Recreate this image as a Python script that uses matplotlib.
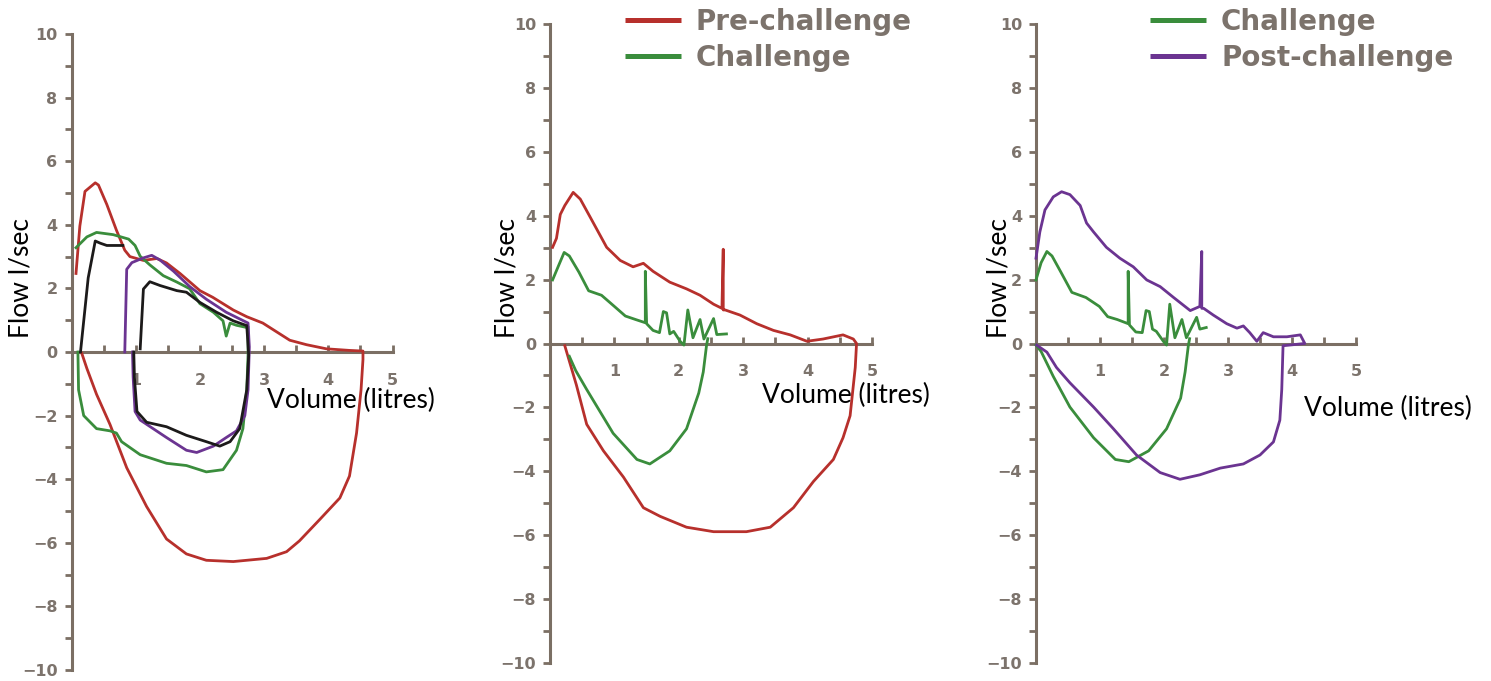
import matplotlib
matplotlib.use("Agg")
import matplotlib.pyplot as plt
import numpy as np

# ---- data (volume in litres, flow in l/sec) ----
# panel 1: overlaid loops
p1_red_vol = [0.07, 0.13, 0.21, 0.37, 0.42, 0.55, 0.70, 0.83, 0.91, 1.12, 1.33, 1.48, 1.69, 2.00, 2.20,
              2.52, 2.73, 2.98, 3.19, 3.40, 3.66, 3.97, 4.33, 4.54,
              4.54, 4.51, 4.44, 4.33, 4.18, 3.87, 3.55, 3.35, 3.04, 2.52, 2.10, 1.79, 1.48, 1.17, 0.86,
              0.60, 0.39, 0.24, 0.16]
p1_red_flow = [2.47, 3.96, 5.05, 5.32, 5.25, 4.64, 3.83, 3.20, 3.00, 2.88, 2.94, 2.80, 2.47, 1.93, 1.72,
               1.32, 1.11, 0.91, 0.64, 0.37, 0.23, 0.10, 0.05, 0.03,
               -0.24, -1.19, -2.55, -3.90, -4.59, -5.26, -5.94, -6.28, -6.49, -6.59, -6.55, -6.35, -5.88,
               -4.86, -3.64, -2.28, -1.33, -0.52, -0.04]

p1_green_vol = [0.07, 0.24, 0.39, 0.65, 0.89, 0.99, 1.07, 1.22, 1.43, 1.64, 1.84, 2.00, 2.21, 2.36,
                2.41, 2.47, 2.57, 2.73]
p1_green_flow = [3.28, 3.62, 3.76, 3.69, 3.55, 3.35, 3.01, 2.74, 2.40, 2.20, 1.99, 1.52, 1.25, 0.98,
                 0.50, 0.91, 0.84, 0.77]
p1_green_in_vol = [0.10, 0.11, 0.19, 0.39, 0.60, 0.70, 0.78, 1.07, 1.48, 1.79, 2.10, 2.36, 2.57, 2.67,
                   2.73, 2.75, 2.75]
p1_green_in_flow = [0.0, -1.19, -2.00, -2.41, -2.48, -2.55, -2.82, -3.23, -3.50, -3.57, -3.77, -3.70,
                    -3.09, -2.41, -1.19, -0.10, 0.77]

p1_black_a_vol = [0.14, 0.26, 0.37, 0.45, 0.55, 0.80]
p1_black_a_flow = [0.0, 2.33, 3.49, 3.42, 3.35, 3.35]
p1_black_b_vol = [1.07, 1.12, 1.22, 1.38, 1.64, 1.79, 2.00, 2.26, 2.52, 2.73, 2.76, 2.73, 2.62, 2.47,
                  2.31, 2.10, 1.79, 1.48, 1.17, 1.02, 0.98, 0.97]
p1_black_b_flow = [0.10, 1.98, 2.21, 2.09, 1.93, 1.88, 1.56, 1.25, 0.98, 0.83, -0.10, -1.19, -2.41,
                   -2.82, -2.96, -2.82, -2.62, -2.35, -2.21, -1.87, -0.80, 0.0]

p1_purple_vol = [0.83, 0.86, 0.94, 1.12, 1.25, 1.38, 1.59, 1.84, 2.10, 2.41, 2.62, 2.75, 2.77, 2.75,
                 2.70, 2.57, 2.41, 2.21, 1.95, 1.79, 1.48, 1.07, 0.99, 0.96, 0.95]
p1_purple_flow = [0.0, 2.60, 2.81, 2.96, 3.04, 2.89, 2.54, 2.06, 1.66, 1.25, 1.04, 0.91, 0.16, -1.19,
                  -2.00, -2.48, -2.69, -2.96, -3.16, -3.09, -2.69, -2.14, -1.87, -0.79, 0.0]

# panel 2: pre-challenge and challenge loops
pre_vol = [0.04, 0.10, 0.16, 0.23, 0.36, 0.47, 0.62, 0.88, 1.09, 1.29, 1.45, 1.60, 1.86, 2.12, 2.33,
           2.54, 2.67, 2.69, 2.69, 2.72, 2.95, 3.21, 3.47, 3.73, 3.99, 4.24, 4.55, 4.71, 4.76,
           4.74, 4.66, 4.55, 4.40, 4.09, 3.78, 3.42, 3.05, 2.54, 2.12, 1.71, 1.45, 1.14, 0.83, 0.57,
           0.41, 0.23]
pre_flow = [3.01, 3.29, 4.04, 4.32, 4.73, 4.52, 3.97, 3.01, 2.60, 2.40, 2.51, 2.26, 1.92, 1.71, 1.51,
            1.23, 1.10, 2.95, 1.05, 1.05, 0.89, 0.62, 0.41, 0.27, 0.07, 0.14, 0.27, 0.14, 0.0,
            -0.75, -2.26, -2.95, -3.63, -4.32, -5.14, -5.75, -5.89, -5.89, -5.75, -5.41, -5.14, -4.18,
            -3.36, -2.53, -1.30, -0.07]

p2_chal_ex_vol = [0.04, 0.14, 0.22, 0.30, 0.45, 0.60, 0.80, 1.00, 1.17, 1.33, 1.48, 1.48, 1.50, 1.60,
                  1.70, 1.76, 1.81, 1.86, 1.92, 2.02, 2.08, 2.14, 2.22, 2.33, 2.39, 2.54, 2.59, 2.74]
p2_chal_ex_flow = [1.99, 2.47, 2.85, 2.74, 2.23, 1.65, 1.51, 1.16, 0.86, 0.75, 0.65, 2.26, 0.62, 0.41,
                   0.34, 1.00, 0.96, 0.30, 0.38, 0.07, -0.05, 1.05, 0.18, 0.75, 0.14, 0.78, 0.28, 0.30]
p2_chal_in_vol = [2.45, 2.43, 2.38, 2.31, 2.12, 1.86, 1.55, 1.35, 0.98, 0.57, 0.40, 0.30]
p2_chal_in_flow = [0.15, -0.07, -0.89, -1.55, -2.67, -3.36, -3.77, -3.63, -2.81, -1.44, -0.85, -0.40]

# panel 3: challenge and post-challenge loops
p3_chal_ex_vol = [0.00, 0.08, 0.17, 0.25, 0.39, 0.56, 0.78, 0.99, 1.12, 1.27, 1.44, 1.44, 1.46, 1.56,
                  1.66, 1.72, 1.77, 1.82, 1.88, 1.99, 2.04, 2.09, 2.17, 2.28, 2.35, 2.51, 2.56, 2.66]
p3_chal_ex_flow = [1.99, 2.53, 2.88, 2.74, 2.23, 1.60, 1.44, 1.16, 0.84, 0.75, 0.62, 2.26, 0.58, 0.36,
                   0.34, 1.03, 1.00, 0.45, 0.38, 0.07, -0.05, 1.23, 0.18, 0.75, 0.18, 0.82, 0.45, 0.50]
p3_chal_in_vol = [2.40, 2.38, 2.33, 2.26, 2.04, 1.76, 1.45, 1.24, 0.90, 0.53, 0.27, 0.08, 0.00]
p3_chal_in_flow = [0.15, -0.07, -0.89, -1.71, -2.67, -3.36, -3.70, -3.63, -2.95, -1.99, -1.03, -0.25, -0.05]

post_vol = [0.00, 0.06, 0.14, 0.27, 0.40, 0.53, 0.69, 0.79, 0.90, 1.10, 1.31, 1.52, 1.73, 1.94, 2.15,
            2.41, 2.56, 2.59, 2.59, 2.62, 2.77, 2.98, 3.14, 3.24, 3.34, 3.45, 3.55, 3.71, 3.92, 4.13,
            4.20,
            3.86, 3.84, 3.81, 3.71, 3.50, 3.24, 2.88, 2.56, 2.25, 1.94, 1.57, 1.21, 0.90, 0.53, 0.32,
            0.17, 0.01]
post_flow = [2.67, 3.49, 4.18, 4.59, 4.75, 4.66, 4.32, 3.77, 3.49, 3.01, 2.67, 2.40, 1.99, 1.78, 1.44,
             1.03, 1.16, 2.88, 1.10, 1.10, 0.89, 0.62, 0.48, 0.55, 0.34, 0.07, 0.34, 0.21, 0.21, 0.27,
             0.0,
             -0.07, -1.44, -2.40, -3.08, -3.49, -3.77, -3.90, -4.11, -4.25, -4.04, -3.49, -2.67, -1.99,
             -1.23, -0.75, -0.27, -0.05]

x_ticks = np.arange(0.5, 5.01, 0.5)
x_labels = ["", "1", "", "2", "", "3", "", "4", "", "5"]
y_ticks = np.arange(-10, 11, 1)
y_labels = [str(v).replace("-", "\u2212") if v % 2 == 0 else "" for v in y_ticks]

RED = "#b7302c"
GREEN = "#3a8d3c"
PURPLE = "#6b3491"
BLACK = "#1c1a1a"
AXIS = "#7b6f64"
TICKLBL = "#7c736c"

W, H = 1491, 681
fig = plt.figure(figsize=(W / 100, H / 100), dpi=100)


def make_axes(x0, x5, y10, ym10):
    ax = fig.add_axes([x0 / W, 1 - ym10 / H, (x5 - x0) / W, (ym10 - y10) / H])
    ax.set_xlim(0, 5)
    ax.set_ylim(-10, 10)
    ax.patch.set_alpha(0)
    for s in ("top", "right"):
        ax.spines[s].set_visible(False)
    ax.spines["bottom"].set_position(("data", 0))
    for s in ("left", "bottom"):
        ax.spines[s].set_color(AXIS)
        ax.spines[s].set_linewidth(2.2)
    ax.set_xticks(x_ticks)
    ax.set_xticklabels(x_labels)
    ax.set_yticks(y_ticks)
    ax.set_yticklabels(y_labels)
    ax.tick_params(axis="x", direction="in", length=5, width=2, color=AXIS, pad=15,
                   labelsize=11.5, labelcolor=TICKLBL)
    ax.tick_params(axis="y", direction="out", length=5, width=2, color=AXIS, pad=5,
                   labelsize=11.5, labelcolor=TICKLBL)
    for lbl in ax.get_xticklabels() + ax.get_yticklabels():
        lbl.set_fontweight("bold")
        lbl.set_family("DejaVu Sans")
    return ax


def curve(ax, v, f, color):
    ax.plot(v, f, color=color, lw=2.0, solid_joinstyle="round", zorder=3, clip_on=False)


ax1 = make_axes(71.5, 392.5, 34, 670)
ax2 = make_axes(550, 872, 24, 663)
ax3 = make_axes(1036, 1356, 24, 663)

curve(ax1, p1_red_vol, p1_red_flow, RED)
curve(ax1, p1_green_vol, p1_green_flow, GREEN)
curve(ax1, p1_green_in_vol, p1_green_in_flow, GREEN)
curve(ax1, p1_purple_vol, p1_purple_flow, PURPLE)
curve(ax1, p1_black_a_vol, p1_black_a_flow, BLACK)
curve(ax1, p1_black_b_vol, p1_black_b_flow, BLACK)

curve(ax2, pre_vol, pre_flow, RED)
curve(ax2, p2_chal_ex_vol, p2_chal_ex_flow, GREEN)
curve(ax2, p2_chal_in_vol, p2_chal_in_flow, GREEN)

curve(ax3, p3_chal_ex_vol, p3_chal_ex_flow, GREEN)
curve(ax3, p3_chal_in_vol, p3_chal_in_flow, GREEN)
curve(ax3, post_vol, post_flow, PURPLE)


# legends, drawn by hand to sit where the reference has them (pixel coords from top-left)
def legend_row(x_line, y, color, label):
    fig.add_artist(plt.Line2D([x_line / W, (x_line + 56) / W], [1 - y / H, 1 - y / H],
                              color=color, lw=3.6, solid_capstyle="butt"))
    fig.text((x_line + 71) / W, 1 - (y + 10) / H, label, ha="left", va="baseline",
             family="DejaVu Sans", weight="bold", fontsize=20, color=TICKLBL)


legend_row(625, 20, RED, "Pre-challenge")
legend_row(625, 56, GREEN, "Challenge")
legend_row(1150, 20, GREEN, "Challenge")
legend_row(1150, 56, PURPLE, "Post-challenge")

# axis titles in the reference are placed as free text
lab = dict(family="Lato", fontsize=19, color="black")
for fx, vx, vy in [(21, 351, 400), (507, 846, 395), (999, 1388, 408)]:
    fig.text(fx / W, 1 - 278 / H, "Flow l/sec", rotation=90, ha="center", va="center", **lab)
    fig.text(vx / W, 1 - vy / H, "Volume (litres)", ha="center", va="center", **lab)

fig.savefig("out.png", dpi=100)
